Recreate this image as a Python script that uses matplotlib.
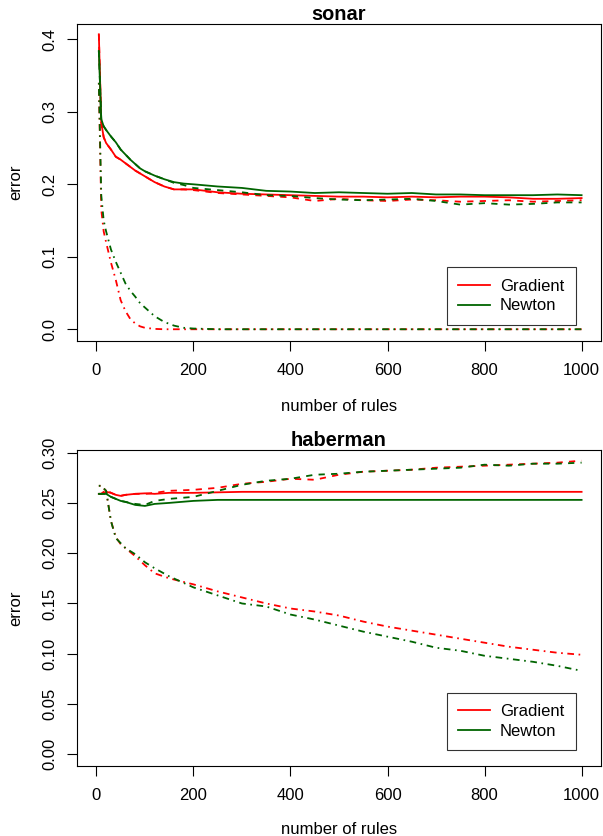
import matplotlib
matplotlib.use('Agg')
import matplotlib.pyplot as plt

plt.rcParams['font.family'] = ['Liberation Sans', 'DejaVu Sans']
plt.rcParams['font.size'] = 12
plt.rcParams['lines.scale_dashes'] = False

# sonar panel
sonar_x = [5, 10, 15, 20, 30, 40, 50, 60, 70, 80, 90, 100, 120, 140, 160, 180, 200,
           250, 300, 350, 400, 450, 500, 550, 600, 650, 700, 750, 800, 850, 900, 950, 1000]
sonar_grad_solid = [0.407, 0.285, 0.265, 0.257, 0.248, 0.238, 0.234, 0.229, 0.224, 0.219,
                    0.215, 0.211, 0.203, 0.197, 0.193, 0.193, 0.193, 0.189, 0.187, 0.186,
                    0.185, 0.184, 0.183, 0.183, 0.182, 0.183, 0.182, 0.183, 0.183, 0.182,
                    0.180, 0.180, 0.181]
sonar_newt_solid = [0.384, 0.290, 0.280, 0.275, 0.266, 0.258, 0.248, 0.241, 0.234, 0.228,
                    0.222, 0.218, 0.212, 0.207, 0.203, 0.201, 0.200, 0.197, 0.195, 0.191,
                    0.190, 0.188, 0.189, 0.188, 0.187, 0.188, 0.186, 0.186, 0.185, 0.185,
                    0.185, 0.186, 0.185]
sonar_grad_dash = [0.407, 0.285, 0.265, 0.257, 0.248, 0.238, 0.234, 0.229, 0.224, 0.219,
                   0.215, 0.211, 0.203, 0.197, 0.193, 0.193, 0.192, 0.188, 0.186, 0.184,
                   0.182, 0.177, 0.180, 0.178, 0.177, 0.179, 0.178, 0.176, 0.177, 0.178,
                   0.176, 0.177, 0.178]
sonar_newt_dash = [0.384, 0.290, 0.280, 0.275, 0.266, 0.258, 0.248, 0.241, 0.234, 0.228,
                   0.222, 0.218, 0.212, 0.207, 0.202, 0.199, 0.195, 0.192, 0.189, 0.185,
                   0.184, 0.181, 0.179, 0.178, 0.179, 0.180, 0.177, 0.172, 0.174, 0.172,
                   0.173, 0.175, 0.175]
sonar_grad_dot = [0.340, 0.165, 0.135, 0.120, 0.092, 0.068, 0.040, 0.025, 0.014, 0.008,
                  0.004, 0.002, 0.0005, 0, 0, 0, 0, 0, 0, 0,
                  0, 0, 0, 0, 0, 0, 0, 0, 0, 0,
                  0, 0, 0]
sonar_newt_dot = [0.340, 0.185, 0.150, 0.135, 0.110, 0.093, 0.078, 0.063, 0.053, 0.045,
                  0.036, 0.030, 0.018, 0.010, 0.005, 0.002, 0.001, 0, 0, 0,
                  0, 0, 0, 0, 0, 0, 0, 0, 0, 0,
                  0, 0, 0]

# haberman panel
hab_x = [5, 10, 20, 30, 40, 50, 60, 80, 100, 120, 150, 200, 250, 300, 350, 400, 450,
         500, 550, 600, 650, 700, 750, 800, 850, 900, 950, 1000]
hab_grad_solid = [0.259, 0.259, 0.261, 0.260, 0.258, 0.257, 0.258, 0.259, 0.2595, 0.259,
                  0.260, 0.260, 0.2605, 0.261, 0.261, 0.261, 0.261, 0.261, 0.261, 0.261,
                  0.261, 0.261, 0.261, 0.261, 0.261, 0.261, 0.261, 0.261]
hab_newt_solid = [0.259, 0.259, 0.259, 0.256, 0.254, 0.252, 0.251, 0.248, 0.247, 0.249,
                  0.250, 0.252, 0.253, 0.253, 0.253, 0.253, 0.253, 0.253, 0.253, 0.253,
                  0.253, 0.253, 0.253, 0.253, 0.253, 0.253, 0.253, 0.253]
hab_grad_dash = [0.259, 0.259, 0.263, 0.260, 0.258, 0.257, 0.258, 0.259, 0.259, 0.260,
                 0.262, 0.263, 0.265, 0.269, 0.271, 0.274, 0.273, 0.278, 0.281, 0.282,
                 0.283, 0.285, 0.286, 0.287, 0.288, 0.289, 0.290, 0.292]
hab_newt_dash = [0.259, 0.259, 0.259, 0.256, 0.254, 0.252, 0.251, 0.249, 0.248, 0.252,
                 0.254, 0.256, 0.262, 0.268, 0.272, 0.274, 0.278, 0.279, 0.281, 0.282,
                 0.283, 0.284, 0.285, 0.288, 0.287, 0.289, 0.289, 0.290]
hab_grad_dot = [0.267, 0.267, 0.262, 0.232, 0.216, 0.209, 0.205, 0.197, 0.188, 0.180,
                0.175, 0.169, 0.162, 0.156, 0.150, 0.145, 0.142, 0.138, 0.132, 0.127,
                0.123, 0.119, 0.115, 0.111, 0.107, 0.104, 0.101, 0.099]
hab_newt_dot = [0.267, 0.267, 0.262, 0.232, 0.215, 0.210, 0.205, 0.199, 0.191, 0.185,
                0.177, 0.166, 0.158, 0.150, 0.147, 0.139, 0.134, 0.128, 0.122, 0.117,
                0.112, 0.106, 0.103, 0.098, 0.095, 0.092, 0.088, 0.083]

legend_labels = ['Gradient', 'Newton']

RED = '#FF0000'
GREEN = '#006400'
DASH = (0, (4.5, 4.5))
DOTDASH = (0, (1.2, 3.3, 4.8, 3.3))
LW = 1.3

fig = plt.figure(figsize=(6.03, 8.36), dpi=100)
W, H = 603.0, 836.0


def panel(box, title, x, series, ylim, yticks, yfmt):
    left, top, right, bottom = box
    ax = fig.add_axes([left / W, 1 - bottom / H, (right - left) / W, (bottom - top) / H])
    for ys, col, ls in series:
        ax.plot(x, ys, color=col, linestyle=ls, lw=LW)
    ax.set_xlim(-40, 1040)
    ax.set_ylim(*ylim)
    ax.set_xticks([0, 200, 400, 600, 800, 1000])
    ax.set_yticks(yticks)
    ax.set_yticklabels([yfmt % v for v in yticks])
    for s in ax.spines.values():
        s.set_linewidth(0.8)
        s.set_color('black')
    ax.tick_params(direction='out', length=7, width=0.8, labelsize=12)
    ax.tick_params(axis='x', pad=9)
    ax.tick_params(axis='y', pad=7)
    plt.setp(ax.get_yticklabels(), rotation=90, va='center')
    ax.set_title(title, fontweight='bold', fontsize=14.4, pad=2.5)
    fig.text(16 / W, 1 - (top + bottom) / 2 / H, 'error', rotation=90,
             ha='center', va='center', fontsize=12)
    leg = ax.legend(handles=[ax.lines[0], ax.lines[3]], labels=legend_labels,
                    loc='lower right', bbox_to_anchor=(0.952, 0.05),
                    frameon=True, fancybox=False, borderaxespad=0, borderpad=0.7,
                    handlelength=1.9, handletextpad=0.6, labelspacing=0.26,
                    fontsize=12)
    leg.get_frame().set_edgecolor('black')
    leg.get_frame().set_linewidth(0.8)
    return ax


panel((77, 24, 601, 341), 'sonar', sonar_x,
      [(sonar_grad_solid, RED, '-'), (sonar_grad_dash, RED, DASH), (sonar_grad_dot, RED, DOTDASH),
       (sonar_newt_solid, GREEN, '-'), (sonar_newt_dash, GREEN, DASH), (sonar_newt_dot, GREEN, DOTDASH)],
      (-0.0162, 0.4212), [0.0, 0.1, 0.2, 0.3, 0.4], '%.1f')
fig.text(339 / W, 1 - 411 / H, 'number of rules', ha='center', va='baseline', fontsize=12)

panel((77, 450, 601, 766), 'haberman', hab_x,
      [(hab_grad_solid, RED, '-'), (hab_grad_dash, RED, DASH), (hab_grad_dot, RED, DOTDASH),
       (hab_newt_solid, GREEN, '-'), (hab_newt_dash, GREEN, DASH), (hab_newt_dot, GREEN, DOTDASH)],
      (-0.0116, 0.3026), [0.0, 0.05, 0.10, 0.15, 0.20, 0.25, 0.30], '%.2f')
fig.text(339 / W, 1 - 834 / H, 'number of rules', ha='center', va='baseline', fontsize=12)

fig.savefig('out.png', dpi=100)
